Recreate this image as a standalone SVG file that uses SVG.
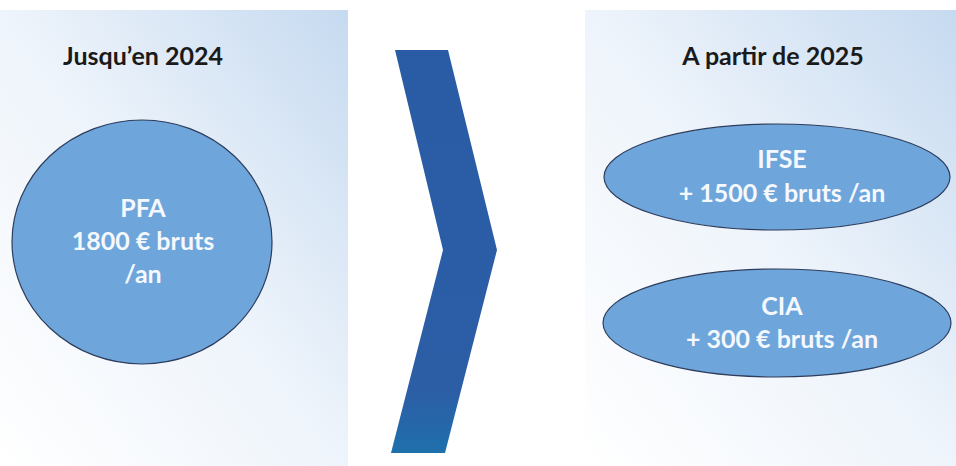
<svg xmlns="http://www.w3.org/2000/svg" width="956" height="466" viewBox="0 0 956 466">
  <defs>
    <linearGradient id="panelGrad" x1="0" y1="1" x2="1" y2="0">
      <stop offset="0" stop-color="#ffffff"/>
      <stop offset="0.5" stop-color="#eef4fb"/>
      <stop offset="1" stop-color="#c6daf0"/>
    </linearGradient>
    <linearGradient id="chevGrad" x1="0" y1="0" x2="0" y2="1">
      <stop offset="0" stop-color="#2a5ca6"/>
      <stop offset="0.85" stop-color="#2c5ea6"/>
      <stop offset="1" stop-color="#1f70ac"/>
    </linearGradient>
    <style>
      .title { font-family: Lato, "Open Sans", "Liberation Sans", sans-serif; font-weight: bold; font-size: 25px; fill: #1a1a1a; text-anchor: middle; }
      .lbl { font-family: Lato, "Open Sans", "Liberation Sans", sans-serif; font-weight: bold; font-size: 25px; fill: #f5f8fc; text-anchor: middle; }
      .bubble { fill: #6ea6dc; stroke: #2e3d5c; stroke-width: 1.2; }
    </style>
  </defs>
  <rect x="0" y="0" width="956" height="466" fill="#ffffff"/>

  <g id="panel-left">
    <rect x="0" y="10" width="348" height="456" fill="url(#panelGrad)"/>
    <text class="title" x="143" y="65">Jusqu’en 2024</text>
  </g>

  <g id="panel-right">
    <rect x="585" y="10" width="371" height="456" fill="url(#panelGrad)"/>
    <text class="title" x="773" y="65">A partir de 2025</text>
  </g>

  <g id="pfa">
    <ellipse class="bubble" cx="142" cy="242" rx="130" ry="122"/>
    <text class="lbl" x="143" y="217">PFA</text>
    <text class="lbl" x="143" y="250">1800 € bruts</text>
    <text class="lbl" x="143" y="283">/an</text>
  </g>

  <g id="connectors">
    <polygon id="chevron" points="395,50 448,50 497,250 445,453 391,453 443,250" fill="url(#chevGrad)"/>
  </g>

  <g id="ifse">
    <ellipse class="bubble" cx="777" cy="177" rx="173" ry="53"/>
    <text class="lbl" x="782" y="168">IFSE</text>
    <text class="lbl" x="782" y="202">+ 1500 € bruts /an</text>
  </g>

  <g id="cia">
    <ellipse class="bubble" cx="777" cy="323" rx="174" ry="54"/>
    <text class="lbl" x="782" y="315">CIA</text>
    <text class="lbl" x="782" y="348">+ 300 € bruts /an</text>
  </g>
</svg>
